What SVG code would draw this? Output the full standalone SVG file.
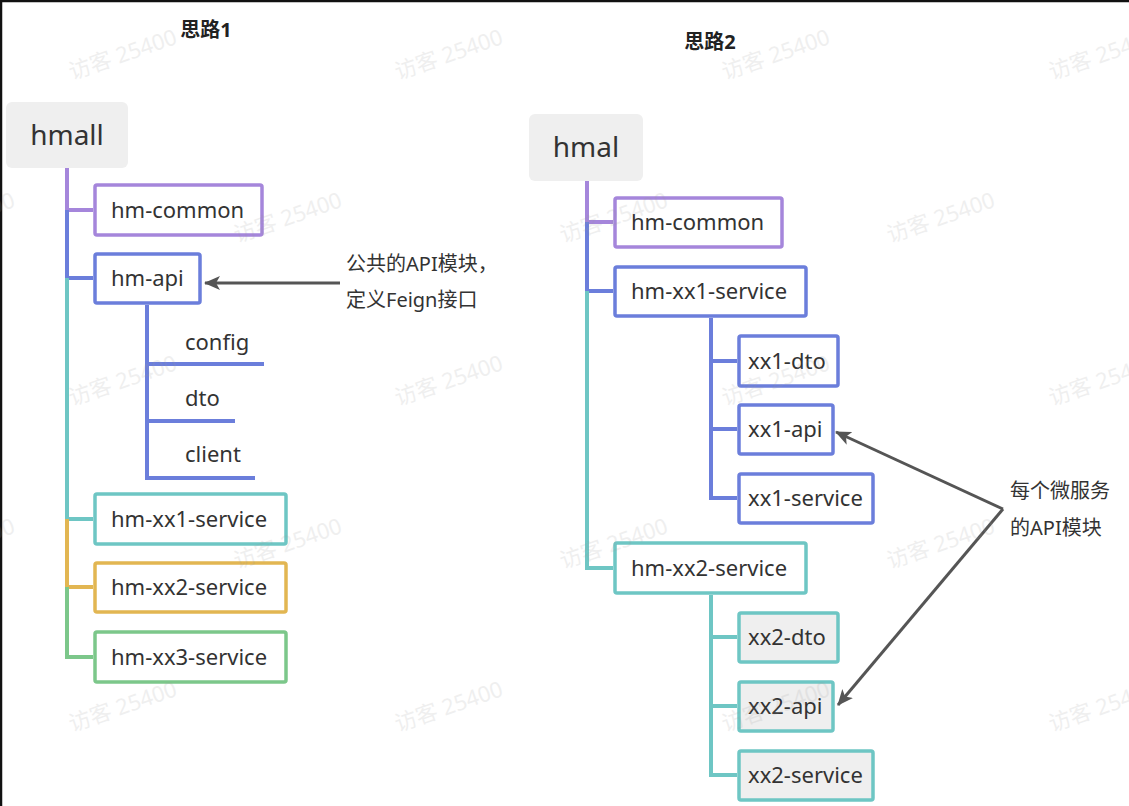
<svg xmlns="http://www.w3.org/2000/svg" width="1129" height="806" viewBox="0 0 1129 806">
<defs>
<style>
.t{font-family:"Noto Sans","Noto Sans CJK SC",sans-serif;fill:#333;}
.lbl{font-size:22px;}
.root{font-size:28px;}
.note{font-size:20px;}
.ttl{font-size:20px;font-weight:bold;fill:#222;}
.box{fill:#fff;stroke-width:3.5;}
.gray{fill:#efefef;}
.ln{fill:none;stroke-width:4;stroke-linejoin:miter;}
.pu{stroke:#a586db;}
.bl{stroke:#6b7edb;}
.te{stroke:#6ec6c4;}
.ye{stroke:#e2b652;}
.gr{stroke:#7cc78a;}
.arr{fill:none;stroke:#555;stroke-width:3;}
.wm{font-family:"Noto Sans","Noto Sans CJK SC",sans-serif;font-size:22px;fill:#999;opacity:0.15;}
</style>
<marker id="ah" markerUnits="userSpaceOnUse" viewBox="0 0 16 14" refX="15" refY="7" markerWidth="16" markerHeight="14" orient="auto">
<path d="M0 0 L16 7 L0 14 L4 7 Z" fill="#555"/>
</marker>
</defs>
<rect x="0" y="0" width="1129" height="806" fill="#fff"/>
<path d="M0 1 H1129 M1 0 V806" stroke="#111" stroke-width="2.5" fill="none"/>

<text class="t ttl" x="206" y="37" text-anchor="middle">思路1</text>
<text class="t ttl" x="710" y="49" text-anchor="middle">思路2</text>

<g id="connectors">
<path class="ln pu" d="M67 168 V210 H93"/>
<path class="ln bl" d="M67 210 V278 H93"/>
<path class="ln te" d="M67 278 V519 H93"/>
<path class="ln ye" d="M67 519 V587 H93"/>
<path class="ln gr" d="M67 587 V657 H93"/>
<path class="ln bl" d="M147 305 V478 H255 M147 364 H264 M147 421 H235"/>
<path class="ln pu" d="M587 181 V222 H613"/>
<path class="ln bl" d="M587 222 V291 H613"/>
<path class="ln te" d="M587 291 V568 H613"/>
<path class="ln bl" d="M711 318 V498 H737 M711 361 H737 M711 429 H737"/>
<path class="ln te" d="M711 595 V775 H737 M711 637 H737 M711 706 H737"/>
<path class="arr" d="M340 283 H205" marker-end="url(#ah)"/>
<path class="arr" d="M1003 509 L836 432" marker-end="url(#ah)"/>
<path class="arr" d="M1003 509 L838 705" marker-end="url(#ah)"/>
</g>

<g id="n-hmall"><rect x="6" y="102" width="122" height="66" rx="6" class="gray"/><text class="t root" x="67" y="145" text-anchor="middle">hmall</text></g>
<g id="n-l-common"><rect class="box pu" x="95" y="185" width="167" height="50" rx="2"/><text class="t lbl" x="111" y="218">hm-common</text></g>
<g id="n-l-api"><rect class="box bl" x="95" y="254" width="105" height="49" rx="2"/><text class="t lbl" x="111" y="286">hm-api</text></g>
<g id="n-config"><text class="t lbl" x="185" y="350">config</text></g>
<g id="n-dto"><text class="t lbl" x="185" y="406">dto</text></g>
<g id="n-client"><text class="t lbl" x="185" y="462">client</text></g>
<g id="n-l-xx1"><rect class="box te" x="95" y="494" width="191" height="50" rx="2"/><text class="t lbl" x="111" y="527">hm-xx1-service</text></g>
<g id="n-l-xx2"><rect class="box ye" x="95" y="563" width="191" height="49" rx="2"/><text class="t lbl" x="111" y="595">hm-xx2-service</text></g>
<g id="n-l-xx3"><rect class="box gr" x="95" y="632" width="191" height="50" rx="2"/><text class="t lbl" x="111" y="665">hm-xx3-service</text></g>
<g id="n-note1"><text class="t note" x="346" y="271">公共的API模块，</text><text class="t note" x="346" y="307">定义Feign接口</text></g>

<g id="n-hmal"><rect x="529" y="114" width="114" height="67" rx="6" class="gray"/><text class="t root" x="586" y="157" text-anchor="middle">hmal</text></g>
<g id="n-r-common"><rect class="box pu" x="615" y="198" width="167" height="49" rx="2"/><text class="t lbl" x="631" y="230">hm-common</text></g>
<g id="n-r-xx1"><rect class="box bl" x="615" y="267" width="191" height="49" rx="2"/><text class="t lbl" x="631" y="299">hm-xx1-service</text></g>
<g id="n-xx1-dto"><rect class="box bl" x="739" y="336" width="99" height="50" rx="2"/><text class="t lbl" x="748" y="369">xx1-dto</text></g>
<g id="n-xx1-api"><rect class="box bl" x="739" y="405" width="94" height="49" rx="2"/><text class="t lbl" x="748" y="437">xx1-api</text></g>
<g id="n-xx1-service"><rect class="box bl" x="739" y="474" width="134" height="49" rx="2"/><text class="t lbl" x="748" y="506">xx1-service</text></g>
<g id="n-r-xx2"><rect class="box te" x="615" y="543" width="191" height="50" rx="2"/><text class="t lbl" x="631" y="576">hm-xx2-service</text></g>
<g id="n-xx2-dto"><rect class="box te gray" x="739" y="613" width="99" height="49" rx="2"/><text class="t lbl" x="748" y="645">xx2-dto</text></g>
<g id="n-xx2-api"><rect class="box te gray" x="739" y="682" width="94" height="49" rx="2"/><text class="t lbl" x="748" y="714">xx2-api</text></g>
<g id="n-xx2-service"><rect class="box te gray" x="739" y="751" width="134" height="49" rx="2"/><text class="t lbl" x="748" y="783">xx2-service</text></g>
<g id="n-note2"><text class="t note" x="1010" y="498">每个微服务</text><text class="t note" x="1010" y="535">的API模块</text></g>

<g id="watermarks">
<text class="wm" transform="translate(72,80) rotate(-19)">访客 25400</text>
<text class="wm" transform="translate(398,80) rotate(-19)">访客 25400</text>
<text class="wm" transform="translate(725,80) rotate(-19)">访客 25400</text>
<text class="wm" transform="translate(1052,80) rotate(-19)">访客 25400</text>
<text class="wm" transform="translate(-90,243) rotate(-19)">访客 25400</text>
<text class="wm" transform="translate(237,243) rotate(-19)">访客 25400</text>
<text class="wm" transform="translate(563,243) rotate(-19)">访客 25400</text>
<text class="wm" transform="translate(890,243) rotate(-19)">访客 25400</text>
<text class="wm" transform="translate(72,406) rotate(-19)">访客 25400</text>
<text class="wm" transform="translate(398,406) rotate(-19)">访客 25400</text>
<text class="wm" transform="translate(725,406) rotate(-19)">访客 25400</text>
<text class="wm" transform="translate(1052,406) rotate(-19)">访客 25400</text>
<text class="wm" transform="translate(-90,569) rotate(-19)">访客 25400</text>
<text class="wm" transform="translate(237,569) rotate(-19)">访客 25400</text>
<text class="wm" transform="translate(563,569) rotate(-19)">访客 25400</text>
<text class="wm" transform="translate(890,569) rotate(-19)">访客 25400</text>
<text class="wm" transform="translate(72,732) rotate(-19)">访客 25400</text>
<text class="wm" transform="translate(398,732) rotate(-19)">访客 25400</text>
<text class="wm" transform="translate(725,732) rotate(-19)">访客 25400</text>
<text class="wm" transform="translate(1052,732) rotate(-19)">访客 25400</text>
</g>
</svg>
